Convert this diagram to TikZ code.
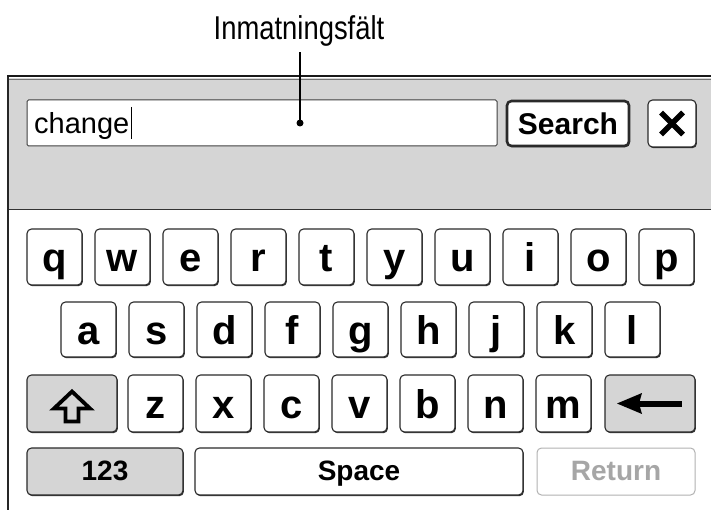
\documentclass[tikz,border=0pt]{standalone}
\usepackage{fontspec}
\setmainfont{Liberation Sans}
\newfontfamily\condfont[FakeStretch=0.83]{Liberation Sans}
\usetikzlibrary{shadows}
\definecolor{panel}{HTML}{D5D5D5}
\definecolor{keyedge}{HTML}{2A2A2A}
\begin{document}
\begin{tikzpicture}[x=1pt,y=-1pt,
  key/.style={draw=keyedge, line width=1.1pt, rounded corners=4.5pt, fill=white,
    drop shadow={shadow xshift=0.9pt, shadow yshift=-1.2pt, fill=black!80, opacity=1},
    inner sep=0pt, text height=30pt, text depth=0pt,
    font=\fontsize{40}{40}\selectfont\bfseries, minimum width=55pt, minimum height=56pt},
  graykey/.style={key, fill=panel},
  bottomkey/.style={key, minimum height=47pt, text height=17pt, font=\fontsize{28}{28}\selectfont\bfseries},
  glyph/.style={line width=3.8pt, line join=miter},
]
\useasboundingbox (0,0) rectangle (711,510);
% panel
\fill[panel] (8,78) rectangle (711,210);
\draw[line width=1pt, black!80] (8,210) -- (711,210);
\draw[line width=1.2pt, black!85] (8,76) -- (8,510);
\draw[line width=2pt, black!90] (7,76) -- (711,76);
\draw[line width=0.8pt, black!55] (9,79.5) -- (711,79.5);
% label and pointer
\node[font=\condfont\fontsize{33}{33}\selectfont, anchor=base, inner sep=2pt] (lbl) at (299,40) {Inmatningsfält};
% input field
\node[draw=black!75, line width=1pt, fill=white, rounded corners=1.5pt, minimum width=470pt, minimum height=46pt, inner sep=0pt] (field) at (262,123) {};
\node[anchor=base west, font=\fontsize{29}{29}\selectfont, inner sep=0pt] (typed) at (34,134) {change};
\draw[line width=1.2pt] ([xshift=2pt,yshift=27pt]typed.base east) -- ([xshift=2pt,yshift=-5pt]typed.base east);
\coordinate (tip) at (300,123);
\draw[line width=2pt] ([yshift=-3pt]tip |- lbl.south) -- (tip);
\fill (tip) circle (3.5pt);
% search and close
\node[key, line width=2.6pt, minimum width=122pt, minimum height=45pt, text height=23pt, font=\fontsize{30}{30}\selectfont\bfseries] (search) at (568,123.5) {Search};
\node[key, minimum width=48pt, minimum height=47pt] (close) at (672,123.5) {};
\begin{scope}[shift={(close.center)}]
  \draw[line width=5.5pt] (-11,-11) -- (11,11);
  \draw[line width=5.5pt] (-11,11) -- (11,-11);
\end{scope}
% row 1
\foreach \l [count=\i from 0] in {q,w,e,r,t,y,u,i,o,p}
  \node[key] (k\l) at (54.5+68*\i,257) {\l};
% row 2
\foreach \l [count=\i from 0] in {a,s,d,f,g,h,j,k,l}
  \node[key, minimum height=55pt] (k\l) at (88.5+68*\i,329.5) {\l};
% row 3
\node[graykey, minimum width=90pt, minimum height=57pt] (shiftkey) at (72,403.5) {};
\foreach \l [count=\i from 0] in {z,x,c,v,b,n,m}
  \node[key, minimum height=57pt] (k\l) at (155.5+68*\i,403.5) {\l};
\node[graykey, minimum width=90pt, minimum height=57pt] (backkey) at (650,403.5) {};
\begin{scope}[shift={(shiftkey.center)}]
  \draw[glyph] (0,-12) -- (18,5) -- (6.5,5) -- (6.5,18) -- (-6.5,18) -- (-6.5,5) -- (-18,5) -- cycle;
\end{scope}
\begin{scope}[shift={(backkey.center)}]
  \draw[line width=6pt] (-14,0) -- (32,0);
  \fill (-33,0) -- (-8,-10.5) -- (-11,0) -- (-8,10.5) -- cycle;
\end{scope}
% row 4
\node[bottomkey, fill=panel, minimum width=156pt] (num) at (105,471.5) {123};
\node[bottomkey, minimum width=328pt] (space) at (359,471.5) {Space};
\node[draw=black!30, line width=1pt, rounded corners=4.5pt, fill=white, inner sep=0pt,
  minimum width=158pt, minimum height=47pt, text height=17pt, text depth=0pt,
  text=black!35, font=\fontsize{28}{28}\selectfont\bfseries] (ret) at (616,471.5) {Return};
\end{tikzpicture}
\end{document}
